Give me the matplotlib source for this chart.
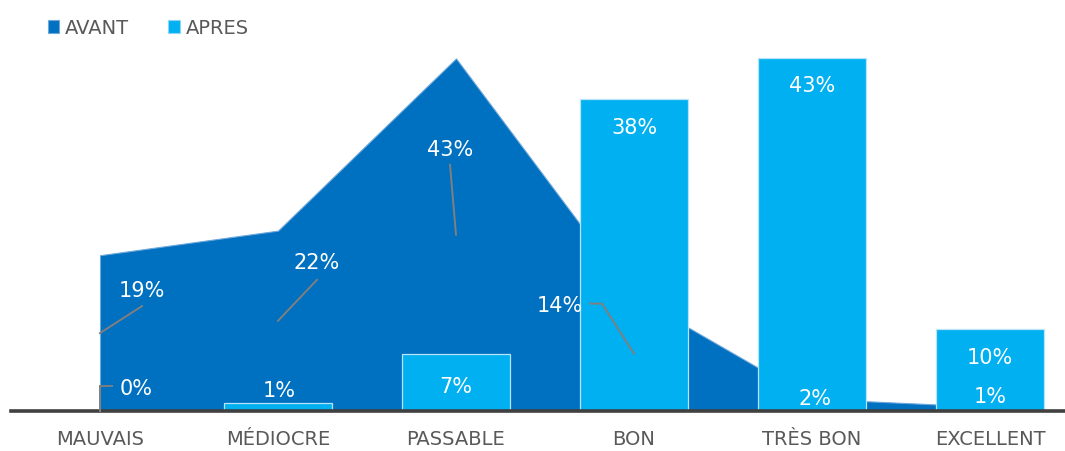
import matplotlib.pyplot as plt
from matplotlib.patches import Patch

categories = ["MAUVAIS", "MÉDIOCRE", "PASSABLE", "BON", "TRÈS BON", "EXCELLENT"]
avant = [19, 22, 43, 14, 1.5, 0.5]
apres = [0, 1, 7, 38, 43, 10]

DARK = "#0070C0"
LIGHT = "#00B0F0"
GREY_TXT = "#595959"
LEADER = "#7F7F7F"

plt.rcParams['font.family'] = ['DejaVu Sans']


def pct(v):
    # excel style rounding, half away from zero
    return "{}%".format(int(v + 0.5))


fig = plt.figure(figsize=(10.65, 4.52), dpi=100)
W, H = 1065.0, 452.0
# plot area: x=-0.5 at 11px, 178px per category, baseline at 412px
ax = fig.add_axes([11 / W, 40 / H, 1054 / W, 369 / H])
xs = list(range(len(categories)))
ax.set_xlim(-0.5, -0.5 + 1054 / 178.0)
ax.set_ylim(0, 45)

ax.fill_between(xs, 0, avant, color=DARK, lw=0.8, edgecolor="#6fa8dc", zorder=1)
ax.bar(xs, apres, width=0.607, color=LIGHT, edgecolor="#b8e4f8", lw=0.9, zorder=2)

for s in ax.spines.values():
    s.set_visible(False)
ax.axhline(0, color="#404040", lw=2.6, zorder=5, clip_on=False)
ax.set_yticks([])
ax.set_xticks(xs)
ax.set_xticklabels(categories, fontsize=14, color=GREY_TXT)
ax.tick_params(axis='x', length=0, pad=13)

# label layout, offsets in pixels from the anchor (leader path then text)
avant_lab = [
    ([(0, 0), (42, 27)], (42, 43)),
    ([(0, 0), (39, 41)], (39, 59)),
    ([(0, 0), (-6, 70)], (-6, 86)),
    ([(0, 0), (-32, 50), (-44, 50)], (-74, 49)),
    (None, (3, 7)),
    (None, (0, 13)),
]
apres_lab = [
    ([(0, 0), (0, 25), (12, 25)], (36, 23)),
    (None, (1, 13)),
    (None, (0, -32)),
    (None, (0, -28)),
    (None, (0, -27)),
    (None, (0, -28)),
]


def draw_label(x, y, txt, path, off):
    a = ax.transData.transform((x, y))
    inv = ax.transData.inverted()
    if path is not None:
        pts = [inv.transform((a[0] + dx, a[1] + dy)) for dx, dy in path]
        ax.plot([p[0] for p in pts], [p[1] for p in pts], color=LEADER, lw=1.4,
                solid_joinstyle='miter', zorder=6, clip_on=False)
    ax.annotate(txt, xy=(x, y), xytext=off, textcoords='offset pixels',
                ha='center', va='center', fontsize=15, color="white", zorder=7)


for i, v in enumerate(avant):
    path, off = avant_lab[i]
    draw_label(i, v / 2.0, pct(v), path, off)
for i, v in enumerate(apres):
    path, off = apres_lab[i]
    draw_label(i, v, pct(v), path, off)

handles = [Patch(facecolor=DARK, edgecolor="#6fa8dc", lw=0.8),
           Patch(facecolor=LIGHT, edgecolor="#8fd6f6", lw=0.8)]
fig.legend(handles, ["AVANT", "APRES"], loc='upper left',
           bbox_to_anchor=(30 / W, 1 - 2 / H), ncol=2, frameon=False,
           handlelength=0.6, handleheight=0.6, handletextpad=0.3,
           columnspacing=2.0, labelcolor=GREY_TXT, prop={'size': 14})

fig.savefig("out.png", dpi=100)
